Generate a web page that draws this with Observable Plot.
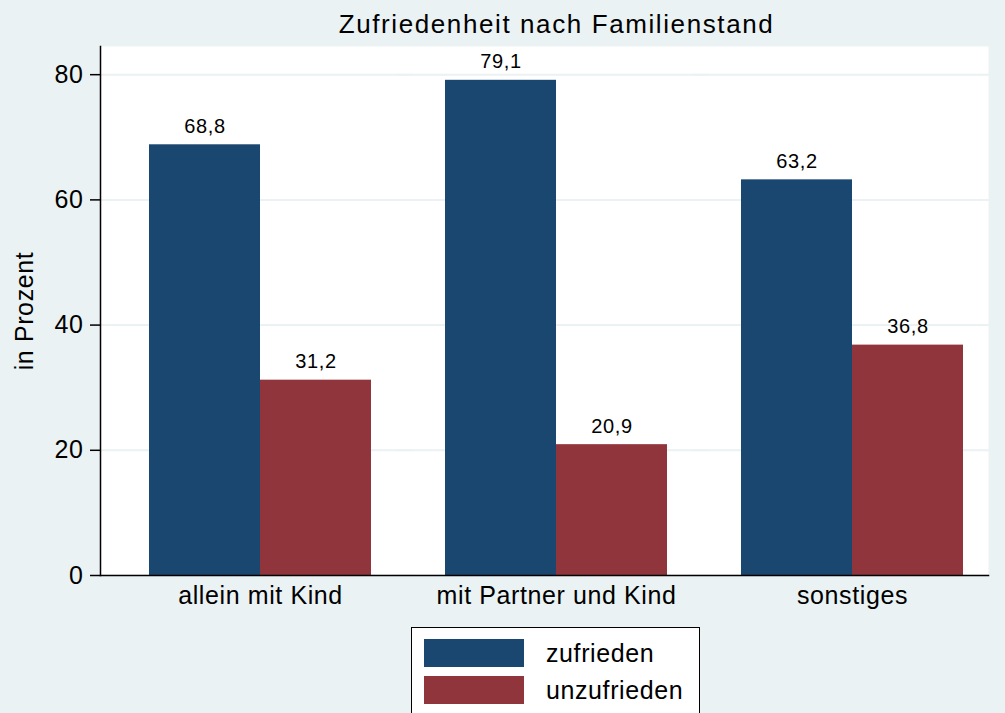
<!DOCTYPE html>
<html>
<head>
<meta charset="utf-8">
<script src="https://cdn.jsdelivr.net/npm/d3@7"></script>
<script src="https://cdn.jsdelivr.net/npm/@observablehq/plot@0.6"></script>
<style>
  html, body { margin: 0; padding: 0; background: #eaf2f3; }
  body { width: 1005px; height: 713px; overflow: hidden; position: relative; font-family: "Liberation Sans", Arial, Helvetica, sans-serif; }
  #title { height: 46px; line-height: 46px; padding-left: 108px; padding-top: 1px; text-align: center; font-size: 26px; letter-spacing: 1.6px; color: #000; box-sizing: border-box; }
  #chart svg text { letter-spacing: 0.6px; }
  #legend { position: absolute; left: 411px; top: 627px; width: 289px; height: 100px; background: #fff; border: 1px solid #000; box-sizing: border-box; }
  .item { position: absolute; left: 12px; height: 28px; display: flex; align-items: center; }
  .sw { width: 100px; height: 28px; }
  .lab { margin-left: 22px; font-size: 25px; letter-spacing: 0.6px; color: #000; }
</style>
</head>
<body>
<div id="title">Zufriedenheit nach Familienstand</div>
<div id="chart"></div>
<div id="legend"></div>
<script>
const groups = ["allein mit Kind", "mit Partner und Kind", "sonstiges"];
const series = ["zufrieden", "unzufrieden"];
const zufrieden = [68.8, 79.1, 63.2];
const unzufrieden = [31.2, 20.9, 36.8];
const yTicks = [0, 20, 40, 60, 80];
const colors = ["#1a476f", "#90353b"];

const data = [];
groups.forEach((g, i) => {
  data.push({group: g, status: series[0], value: zufrieden[i]});
  data.push({group: g, status: series[1], value: unzufrieden[i]});
});
const fmt = v => v.toFixed(1).replace(".", ",");

const chart = Plot.plot({
  width: 1005,
  height: 579,
  marginTop: 0,
  marginLeft: 100,
  marginRight: 0,
  marginBottom: 50,
  style: {background: "transparent", fontFamily: "'Liberation Sans', Arial, Helvetica, sans-serif", fontSize: "25px", color: "#000", overflow: "visible"},
  fx: {domain: groups, paddingInner: 0, paddingOuter: 0.0287, align: 0, label: null},
  x: {domain: series, paddingInner: 0, paddingOuter: 0.327, align: 0.6575, axis: null},
  y: {domain: [0, 84.5], axis: null},
  color: {domain: series, range: colors},
  marks: [
    Plot.frame({fill: "white", stroke: null, facet: "super"}),
    Plot.gridY(yTicks, {stroke: "#eaf2f3", strokeOpacity: 1, strokeWidth: 2, insetRight: -17}),
    Plot.barY(data, {fx: "group", x: "status", y: "value", fill: "status"}),
    Plot.text(data, {fx: "group", x: "status", y: "value", text: d => fmt(d.value), dy: -12, lineAnchor: "bottom", fontSize: 20}),
    Plot.frame({anchor: "left", stroke: "#000", strokeWidth: 1.5, facet: "super"}),
    Plot.frame({anchor: "bottom", stroke: "#000", strokeWidth: 1.5, facet: "super"}),
    Plot.axisY({ticks: yTicks, tickSize: 10, tickPadding: 7, strokeWidth: 1.5, label: "in Prozent", labelAnchor: "center", labelArrow: "none", labelOffset: 85}),
    Plot.axisFx({anchor: "bottom", tickSize: 0, tickPadding: 11, dx: 12, label: null})
  ]
});
document.getElementById("chart").appendChild(chart);

const legend = document.getElementById("legend");
series.forEach((s, i) => {
  const item = document.createElement("div");
  item.className = "item";
  item.style.top = (11 + i * 37) + "px";
  item.innerHTML = `<div class="sw" style="background:${colors[i]}"></div><div class="lab">${s}</div>`;
  legend.appendChild(item);
});
</script>
</body>
</html>
